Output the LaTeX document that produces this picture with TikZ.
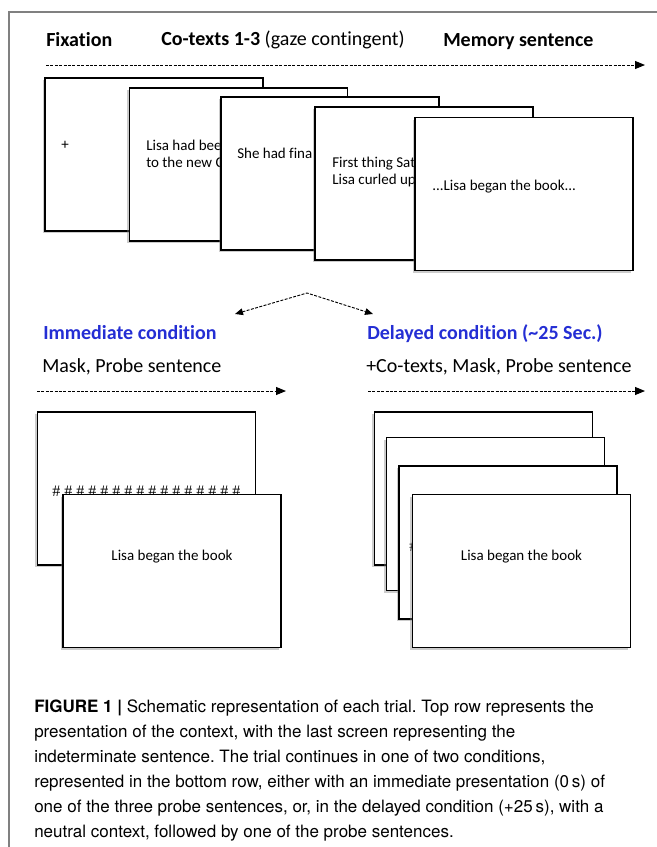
\documentclass[tikz,border=0pt]{standalone}
\usepackage{fontspec}
\setmainfont{Carlito}[Ligatures=NoCommon]
\newfontfamily\capfont{TeX Gyre Heros}
\newfontfamily\hashfont{Liberation Serif}
\usetikzlibrary{arrows.meta,shadows}
\definecolor{condblue}{RGB}{36,46,212}
\definecolor{framegray}{RGB}{128,128,128}
\frenchspacing

\begin{document}
\begin{tikzpicture}[x=0.75pt,y=-0.75pt]
  \tikzstyle{screen}=[draw,fill=white,line width=0.9pt,minimum width=163.5pt,minimum height=114.75pt,inner sep=0pt,drop shadow={shadow xshift=-1.6pt,shadow yshift=-1.6pt,opacity=0.4}]
  \tikzstyle{txt}=[anchor=west,inner sep=0pt,align=left,font=\fontsize{11.25pt}{12.75pt}\selectfont]
  \tikzstyle{head}=[anchor=west,inner sep=0pt,font=\fontsize{15pt}{18pt}\selectfont]
  \tikzstyle{cond}=[anchor=west,inner sep=0pt,font=\fontsize{15pt}{18pt}\selectfont\bfseries,text=condblue]
  \tikzstyle{hashes}=[anchor=west,inner sep=0pt,font=\hashfont\fontsize{12pt}{12pt}\selectfont]
  \tikzstyle{timeline}=[line width=0.7pt,dash pattern=on 2.2pt off 1.1pt,-{Triangle[length=7.5pt,width=6pt]}]
  \tikzstyle{branch}=[line width=0.7pt,dash pattern=on 2.2pt off 1.1pt,{Triangle[length=6pt,width=5pt]}-{Triangle[length=6pt,width=5pt]}]
  \fill [white] (0,0) rectangle (657,847);
  \useasboundingbox (0,0) rectangle (657,847);
  \draw [framegray,line width=0.8pt] (9,847) -- (9,12) -- (657,12);

  \node [head] (fix) at (46,40) {\textbf{Fixation}} ;
  \node [head] (cotexts) at (161,40) {\textbf{Co-texts 1-3} (gaze contingent)} ;
  \node [head] (memory) at (443,42) {\textbf{Memory sentence}} ;
  \coordinate (top0) at (46,65) ;
  \coordinate (top1) at (645,65) ;
  \draw [timeline] (top0) -- (top1) ;

  \node [screen] (fixscr) at (154,154.5) {} ;
  \node [txt] (fixtxt) at (61,145) {+} ;
  \node [screen] (co1) at (238.5,164.5) {} ;
  \node [txt] (co1txt) at (146,153.5) {Lisa had bee\\to the new C} ;
  \node [screen] (co2) at (330,173.5) {} ;
  \node [txt] (co2txt) at (237,153) {She had fina} ;
  \node [screen] (co3) at (424,183.5) {} ;
  \node [txt] (co3txt) at (332,171.5) {First thing Sat\\Lisa curled up} ;
  \node [screen] (memscr) at (524,194) {} ;
  \node [txt] (memtxt) at (432,187) {...Lisa began the book...} ;

  \coordinate (split) at (307,293) ;
  \coordinate (tipl) at (235,314) ;
  \coordinate (tipr) at (373,314) ;
  \draw [branch] (tipl) -- (split) -- (tipr) ;

  \node [cond] (imm) at (43,333) {Immediate condition} ;
  \node [head] (immseq) at (42,367) {Mask, Probe sentence} ;
  \coordinate (imm0) at (37,391) ;
  \coordinate (imm1) at (286,391) ;
  \draw [timeline] (imm0) -- (imm1) ;
  \node [cond] (del) at (367,334) {Delayed condition (\textasciitilde25 Sec.)} ;
  \node [head] (delseq) at (366,367) {+Co-texts, Mask, Probe sentence} ;
  \coordinate (del0) at (368,391) ;
  \coordinate (del1) at (645,391) ;
  \draw [timeline] (del0) -- (del1) ;

  \node [screen] (mask) at (146.5,488.5) {} ;
  \node [hashes] (masktxt) at (52,491) {\# \# \# \# \# \# \# \# \# \# \# \# \# \# \# \#} ;
  \node [screen] (probe) at (172,571) {} ;
  \node [txt,anchor=center] (probetxt) at (172,557) {Lisa began the book} ;

  \node [screen] (dco1) at (483.5,488.5) {} ;
  \node [screen] (dco2) at (495.5,514) {} ;
  \node [screen] (dmask) at (508,542.5) {} ;
  \node [hashes] (dmasktxt) at (409,546) {\#} ;
  \node [screen] (dprobe) at (521.5,571) {} ;
  \node [txt,anchor=center] (dprobetxt) at (521.5,557) {Lisa began the book} ;

  \node [anchor=north west,inner sep=0pt,align=left,font=\capfont\fontsize{12.75pt}{18.75pt}\selectfont] (caption) at (34,700) {\textbf{FIGURE 1 \textbar} Schematic representation of each trial. Top row represents the\\presentation of the context, with the last screen representing the\\indeterminate sentence. The trial continues in one of two conditions,\\represented in the bottom row, either with an immediate presentation (0\,s) of\\one of the three probe sentences, or, in the delayed condition (+25\,s), with a\\neutral context, followed by one of the probe sentences.} ;
\end{tikzpicture}
\end{document}
